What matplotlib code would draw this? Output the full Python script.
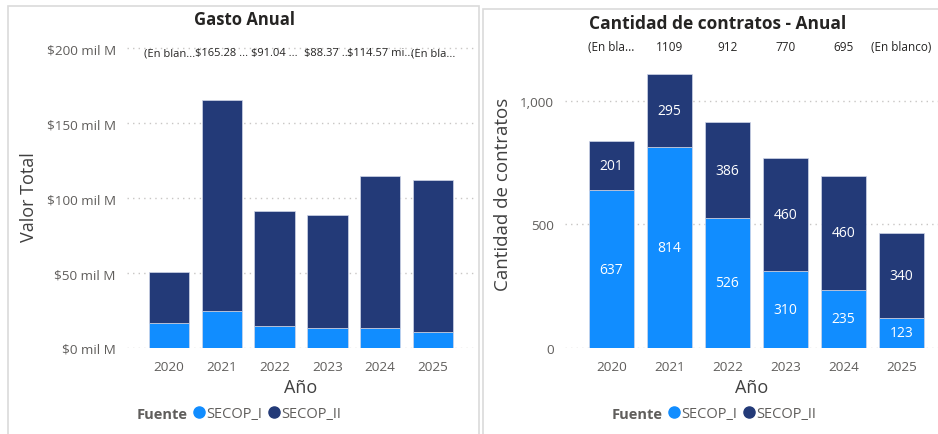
import matplotlib.pyplot as plt
from matplotlib.lines import Line2D
from matplotlib.patches import Rectangle

plt.rcParams['font.family'] = ['Open Sans', 'DejaVu Sans']

# datos
anios = ['2020', '2021', '2022', '2023', '2024', '2025']

# Gasto anual (miles de millones)
gasto_secop_i = [16.9, 24.7, 14.7, 13.5, 13.3, 10.4]
gasto_secop_ii = [33.8, 140.58, 76.34, 74.87, 101.27, 101.3]
gasto_etiquetas = ['(En blan...', '$165.28 ...', '$91.04 ...', '$88.37 ...', '$114.57 mi...', '(En bla...']
gasto_ticks = [0, 50, 100, 150, 200]
gasto_tick_labels = ['$0 mil M', '$50 mil M', '$100 mil M', '$150 mil M', '$200 mil M']

# Cantidad de contratos
contratos_secop_i = [637, 814, 526, 310, 235, 123]
contratos_secop_ii = [201, 295, 386, 460, 460, 340]
contratos_etiquetas = ['(En bla...', '1109', '912', '770', '695', '(En blanco)']
contratos_ticks = [0, 500, 1000]
contratos_tick_labels = ['0', '500', '1,000']

c1 = '#118DFF'
c2 = '#233A78'
gris = '#605E5C'
W, H = 938, 435

fig = plt.figure(figsize=(W / 100, H / 100), dpi=100)

# marcos de los paneles
fig.patches.append(Rectangle((8 / W, -0.05), 471 / W, 1.05 - 7 / H, transform=fig.transFigure,
                             fill=False, edgecolor='#DADADA', linewidth=1.2))
fig.patches.append(Rectangle((483 / W, -0.05), 470 / W, 1.05 - 10 / H, transform=fig.transFigure,
                             fill=False, edgecolor='#DADADA', linewidth=1.2))


def make_ax(left, right, top):
    return fig.add_axes([left / W, (H - 349) / H, (right - left) / W, (349 - top) / H])


def style(ax, ticks, labels):
    ax.set_yticks(ticks)
    ax.set_yticklabels(labels)
    ax.grid(axis='y', linestyle=(0, (1, 3)), color='#C8C6C4', linewidth=1)
    ax.set_axisbelow(True)
    for s in ax.spines.values():
        s.set_visible(False)
    ax.tick_params(length=0, colors=gris, labelsize=9.7)
    ax.tick_params(axis='y', pad=8)
    ax.tick_params(axis='x', pad=9)


x = range(len(anios))

# --- Gasto Anual ---
ax1 = make_ax(127, 475, 45)
ax1.bar(x, gasto_secop_i, width=0.77, color=c1, edgecolor='#D0D6E8', linewidth=0.5)
ax1.bar(x, gasto_secop_ii, width=0.77, bottom=gasto_secop_i, color=c2, edgecolor='#D0D6E8', linewidth=0.5)
ax1.set_xticks(list(x))
ax1.set_xticklabels(anios)
ax1.set_xlim(-0.8, 5.8)
ax1.set_ylim(0, 202.7)
style(ax1, gasto_ticks, gasto_tick_labels)
for i, t in enumerate(gasto_etiquetas):
    ax1.text(i, 197, t, ha='center', va='center', fontsize=8, color='#252423')
ax1.set_xlabel('Año', fontsize=13, color='#404040', labelpad=3)
ax1.set_ylabel('Valor Total', fontsize=13, color='#404040', labelpad=6)
fig.text(245 / W, 1 - 20 / H, 'Gasto Anual', ha='center', va='center', fontsize=12,
         fontweight='bold', color='#252423')

# --- Cantidad de contratos ---
ax2 = make_ax(565, 938, 40)
ax2.bar(x, contratos_secop_i, width=0.77, color=c1, edgecolor='#D0D6E8', linewidth=0.5)
ax2.bar(x, contratos_secop_ii, width=0.77, bottom=contratos_secop_i, color=c2, edgecolor='#D0D6E8', linewidth=0.5)
ax2.set_xticks(list(x))
ax2.set_xticklabels(anios)
ax2.set_xlim(-0.8, 5.63)
ax2.set_ylim(0, 1249)
style(ax2, contratos_ticks, contratos_tick_labels)
for i in x:
    a = contratos_secop_i[i]
    b = contratos_secop_ii[i]
    ax2.text(i, a / 2, str(a), ha='center', va='center', fontsize=10, color='white')
    ax2.text(i, a + b / 2, str(b), ha='center', va='center', fontsize=10, color='white')
for i, t in enumerate(contratos_etiquetas):
    ax2.text(i, 1220, t, ha='center', va='center', fontsize=8.5, color='#252423')
ax2.set_xlabel('Año', fontsize=13, color='#404040', labelpad=3)
ax2.set_ylabel('Cantidad de contratos', fontsize=13.5, color='#404040', labelpad=6)
fig.text(718 / W, 1 - 24 / H, 'Cantidad de contratos - Anual', ha='center', va='center', fontsize=12.5,
         fontweight='bold', color='#252423')

# leyendas
handles = [Line2D([], [], marker='o', linestyle='', color=c1, markersize=8),
           Line2D([], [], marker='o', linestyle='', color=c2, markersize=8)]
for fx, lx in [(137, 192), (612, 667)]:
    fig.text(fx / W, 1 - 415 / H, 'Fuente', ha='left', va='center', fontsize=10.5,
             fontweight='bold', color='#605E5C')
    fig.legend(handles, ['SECOP_I', 'SECOP_II'], loc='center left', bbox_to_anchor=(lx / W, 1 - 415 / H),
               ncol=2, frameon=False, fontsize=10.5, labelcolor='#605E5C', handletextpad=0.0,
               columnspacing=0.3, handlelength=1.0, borderpad=0, borderaxespad=0)

fig.savefig('out.png', dpi=100)
